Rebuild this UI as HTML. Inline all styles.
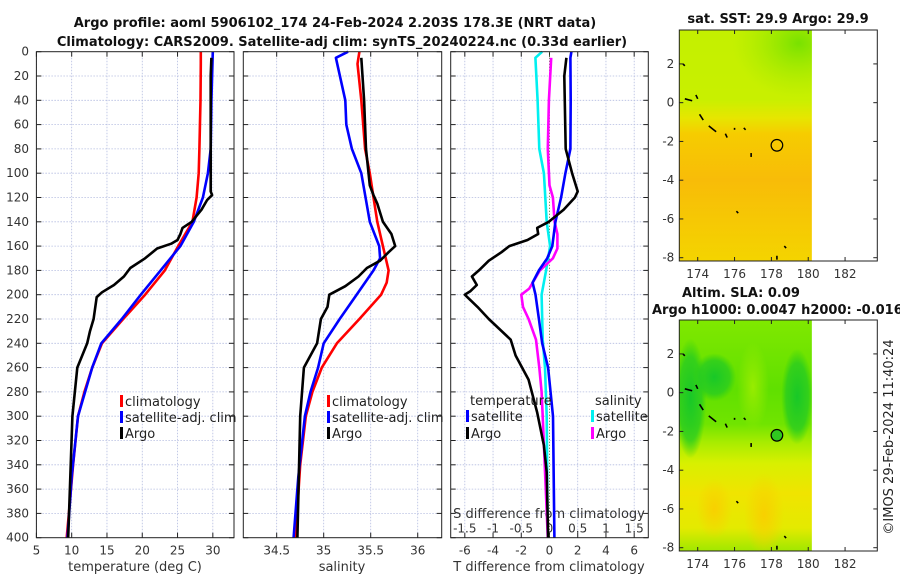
<!DOCTYPE html>
<html><head><meta charset="utf-8">
<style>
body{margin:0;background:#fff;}
svg{display:block;font-family:"DejaVu Sans","Liberation Sans",sans-serif;}
</style></head>
<body>
<svg id="c" width="900" height="580" viewBox="0 0 900 580">
<defs>
<linearGradient id="sstg" x1="0" y1="0" x2="0" y2="1">
<stop offset="0" stop-color="#c4f000"/><stop offset="0.3" stop-color="#c8f000"/>
<stop offset="0.38" stop-color="#e6e600"/><stop offset="0.45" stop-color="#f6cc00"/>
<stop offset="0.65" stop-color="#f8bc08"/><stop offset="1" stop-color="#f4d400"/>
</linearGradient>
<radialGradient id="sstgr" cx="0.9" cy="0.12" r="0.5">
<stop offset="0" stop-color="#70e000" stop-opacity="0.9"/><stop offset="1" stop-color="#a0e800" stop-opacity="0"/>
</radialGradient>
<linearGradient id="slag" x1="0" y1="0" x2="0" y2="1">
<stop offset="0" stop-color="#80e800"/><stop offset="0.3" stop-color="#60e000"/>
<stop offset="0.45" stop-color="#70e400"/><stop offset="0.53" stop-color="#a8ec00"/>
<stop offset="0.62" stop-color="#d8f000"/><stop offset="0.75" stop-color="#f0e400"/>
<stop offset="0.9" stop-color="#e4ea00"/><stop offset="1" stop-color="#a0e800"/>
</linearGradient>
<radialGradient id="blobA" cx="0.5" cy="0.5" r="0.5"><stop offset="0" stop-color="#f8d000"/><stop offset="1" stop-color="#f8d000" stop-opacity="0"/></radialGradient>
<radialGradient id="blobG" cx="0.5" cy="0.5" r="0.5"><stop offset="0" stop-color="#18c828"/><stop offset="0.7" stop-color="#28cc20" stop-opacity="0.8"/><stop offset="1" stop-color="#30d010" stop-opacity="0"/></radialGradient>
<radialGradient id="blobL" cx="0.5" cy="0.5" r="0.5"><stop offset="0" stop-color="#98ec00"/><stop offset="1" stop-color="#98ec00" stop-opacity="0"/></radialGradient>
</defs>
<g id="root"></g>
</svg>
<script>
// ---- data ----
const depthRed = [0,10,40,80,100,120,140,160,180,200,220,240,260,280,300,340,380,400];
const tempClim = [28.3,28.3,28.25,28.1,28.0,27.7,27.1,25.1,23.2,20.4,17.3,14.3,12.9,11.8,10.9,10.2,9.6,9.3];
const depthBlue = [0,40,80,100,120,140,160,180,200,220,240,260,300,350,400];
const tempSat = [30.0,29.8,29.7,29.3,28.6,27.3,25.4,22.6,19.8,17.1,14.2,12.9,10.9,10.0,9.4];
const depthArgoT = [5,20,60,100,115,118,122,130,140,145,150,155,158,162,170,178,185,192,198,202,220,230,240,260,300,350,400];
const tempArgo = [29.8,29.7,29.7,29.7,29.7,29.9,29.2,28.4,27.0,25.7,25.4,25.0,24.1,22.1,20.4,18.3,17.4,16.0,14.3,13.55,13.1,12.6,12.2,10.8,10.1,9.8,9.5];
const depthSalClim = [0,10,40,80,100,120,140,160,180,190,200,220,240,260,280,300,340,400];
const salClim = [35.38,35.36,35.40,35.44,35.49,35.53,35.57,35.63,35.69,35.67,35.61,35.38,35.14,34.98,34.88,34.81,34.75,34.70];
const depthSalSat = [0,5,40,60,80,100,140,160,170,180,200,220,240,260,280,300,350,400];
const salSat = [35.26,35.13,35.23,35.24,35.30,35.40,35.49,35.59,35.60,35.53,35.35,35.17,35.00,34.94,34.86,34.80,34.73,34.68];
const depthSalArgo = [5,40,80,110,118,125,140,150,160,165,172,178,185,193,200,210,220,240,260,300,400];
const salArgo = [35.40,35.43,35.45,35.49,35.53,35.57,35.63,35.72,35.76,35.69,35.60,35.46,35.37,35.23,35.06,35.04,34.97,34.93,34.79,34.75,34.72];
const depthDT = [0,5,40,80,100,120,140,160,170,180,190,200,220,240,260,300,400];
const dTsat = [1.55,1.48,1.50,1.48,1.13,0.82,0.42,0.2,-0.16,-0.75,-1.2,-0.99,-0.75,-0.52,-0.1,0.25,0.35];
const depthDTA = [5,20,80,100,115,120,130,140,145,150,155,160,165,172,180,185,192,197,200,210,220,237,250,270,297,324,346,400];
const dTargo = [1.2,1.05,1.15,1.6,2.0,1.8,1.0,-0.05,-0.87,-0.8,-1.56,-2.85,-3.4,-4.3,-5.0,-5.5,-5.15,-5.6,-6.0,-5.1,-4.3,-2.75,-2.4,-1.48,-0.87,-0.4,-0.2,-0.1];
const depthDS = [0,5,40,80,100,140,160,180,200,237,260,300,400];
const dSsat = [-0.13,-0.25,-0.21,-0.18,-0.10,-0.05,0.01,-0.06,-0.14,-0.12,-0.08,-0.05,-0.03];
const depthDSA = [5,40,80,110,120,140,150,162,170,180,195,200,210,220,237,260,280,300,400];
const dSargo = [0.03,-0.01,-0.03,0.0,0.06,0.09,0.14,0.14,0.06,-0.17,-0.36,-0.50,-0.47,-0.37,-0.24,-0.18,-0.14,-0.12,-0.03];
const depthTicks = [0,20,40,60,80,100,120,140,160,180,200,220,240,260,280,300,320,340,360,380,400];
const tTicks = [5,10,15,20,25,30];
const sTicks = [34.5,35,35.5,36];
const dtTicks = [-6,-4,-2,0,2,4,6];
const dsTicks = [-1.5,-1,-0.5,0,0.5,1,1.5];
const lonTicks = [174,176,178,180,182];
const latTicks = [2,0,-2,-4,-6,-8];
const argoPos = [178.3,-2.2];

const NS='http://www.w3.org/2000/svg';
const root=document.getElementById('root');
function mk(tag,attrs,parent,txt){const e=document.createElementNS(NS,tag);for(const k in attrs)e.setAttribute(k,attrs[k]);if(txt!==undefined)e.textContent=txt;(parent||root).appendChild(e);return e;}

const Y0=51.7,Y1=537.7;
const yD=d=>Y0+(d/400)*(Y1-Y0);
function lin(d0,d1,r0,r1){return v=>r0+(v-d0)/(d1-d0)*(r1-r0);}
const panels=[
 {name:'temperature-panel',x0:36.4,x1:234,sx:lin(5,33,36.4,234),ticks:tTicks},
 {name:'salinity-panel',x0:243.3,x1:441.7,sx:lin(34.145,36.255,243.3,441.7),ticks:sTicks},
 {name:'difference-panel',x0:450.7,x1:648.3,sx:lin(-7,7,450.7,648.3),ticks:dtTicks}
];
panels.forEach((p,i)=>{
 const g=mk('g',{});
 
 
 depthTicks.forEach(d=>{
  if(d>0&&d<400){const l=mk('line',{x1:p.x0,x2:p.x1,y1:yD(d),y2:yD(d),stroke:'#b4bce0','stroke-width':0.8,'stroke-dasharray':'1.5,1.5'},g);
  }
  mk('line',{x1:p.x0,x2:p.x0+5,y1:yD(d),y2:yD(d),stroke:'#222','stroke-width':1},g);
  mk('line',{x1:p.x1-5,x2:p.x1,y1:yD(d),y2:yD(d),stroke:'#222','stroke-width':1},g);
 });
 p.ticks.forEach(t=>{
  const x=p.sx(t);
  if(!(i==2&&t==0)){const l=mk('line',{x1:x,x2:x,y1:Y0,y2:Y1,stroke:'#b4bce0','stroke-width':0.8,'stroke-dasharray':'1.5,1.5'},g);
  }
  mk('line',{x1:x,x2:x,y1:Y1-5,y2:Y1,stroke:'#222'},g);
  mk('line',{x1:x,x2:x,y1:Y0,y2:Y0+5,stroke:'#222'},g);
  const tl=mk('text',{x:x,y:Y1+17,'text-anchor':'middle','font-size':12,fill:'#333'},g,String(t));
  
 });
});
depthTicks.forEach(d=>{const t=mk('text',{x:29,y:yD(d)+4,'text-anchor':'end','font-size':12,fill:'#333'},root,String(d));
});
const P3=panels[2];
const z=mk('line',{x1:P3.sx(0),x2:P3.sx(0),y1:Y0,y2:Y1,stroke:'#556b2f','stroke-width':1,'stroke-dasharray':'1,2'});

const sS=v=>P3.sx(v*4);
dsTicks.forEach(t=>{const e=mk('text',{x:sS(t),y:Y1-5,'text-anchor':'middle','font-size':12,fill:'#333'},root,String(t));
});
const st=mk('text',{x:549,y:518,'text-anchor':'middle','font-size':13,fill:'#333'},root,'S difference from climatology');


function line(name,xs,ds,sx,col){
 const pts=xs.map((v,i)=>sx(v).toFixed(1)+','+yD(ds[i]).toFixed(1)).join(' ');
 const e=mk('polyline',{points:pts,fill:'none',stroke:col,'stroke-width':2.6,'stroke-linejoin':'round'});
 
}
line('temp-climatology-line',tempClim,depthRed,panels[0].sx,'#ff0000');
line('temp-satellite-line',tempSat,depthBlue,panels[0].sx,'#0000ff');
line('temp-argo-line',tempArgo,depthArgoT,panels[0].sx,'#000');
line('sal-climatology-line',salClim,depthSalClim,panels[1].sx,'#ff0000');
line('sal-satellite-line',salSat,depthSalSat,panels[1].sx,'#0000ff');
line('sal-argo-line',salArgo,depthSalArgo,panels[1].sx,'#000');
line('ds-satellite-line',dSsat,depthDS,sS,'#00f0f0');
line('ds-argo-line',dSargo,depthDSA,sS,'#ff00ff');
line('dt-satellite-line',dTsat,depthDT,P3.sx,'#0000ff');
line('dt-argo-line',dTargo,depthDTA,P3.sx,'#000');

panels.forEach(p=>{const r=mk('rect',{x:p.x0,y:Y0,width:p.x1-p.x0,height:Y1-Y0,fill:'none',stroke:'#222','stroke-width':1});
});

function leg(x,y,col,label){
 const g=mk('g',{});
 mk('rect',{x:x,y:y-11,width:3,height:12,fill:col},g);
 mk('text',{x:x+5,y:y,'font-size':13,fill:'#222'},g,label);
}
[[120,'#ff0000','climatology',406],[120,'#0000ff','satellite-adj. clim',422],[120,'#000','Argo',438]].forEach(a=>leg(a[0],a[3],a[1],a[2]));
[[327,'#ff0000','climatology',406],[327,'#0000ff','satellite-adj. clim',422],[327,'#000','Argo',438]].forEach(a=>leg(a[0],a[3],a[1],a[2]));
mk('text',{x:470,y:405,'font-size':13,fill:'#222'},root,'temperature');
mk('text',{x:595,y:405,'font-size':13,fill:'#222'},root,'salinity');
leg(466,421,'#0000ff','satellite');leg(466,438,'#000','Argo');
leg(591,421,'#00f0f0','satellite');leg(591,438,'#ff00ff','Argo');

[[135,'temperature (deg C)'],[342,'salinity'],[549,'T difference from climatology']].forEach(a=>{
 const t=mk('text',{x:a[0],y:571,'text-anchor':'middle','font-size':13,fill:'#333'},root,a[1]);
 });
const t1=mk('text',{x:335,y:27,'text-anchor':'middle','font-size':13,'font-weight':'bold',fill:'#111'},root,'Argo profile: aoml 5906102_174 24-Feb-2024 2.203S 178.3E (NRT data)');

const t2=mk('text',{x:342,y:46,'text-anchor':'middle','font-size':13,'font-weight':'bold',fill:'#111'},root,'Climatology: CARS2009. Satellite-adj clim: synTS_20240224.nc (0.33d earlier)');


const MX0=679.3,MX1=877.3;
const lonX=lin(173,183.75,MX0,MX1);
function drawMap(name,top,fillId,extra){
 const latY=lin(3.75,-8.17,top,top+231);
 const g=mk('g',{});
 const dx0=MX0,dx1=lonX(180.2);
 const cl=mk('clipPath',{id:'clip-'+name},g);
 mk('rect',{x:dx0,y:top,width:dx1-dx0,height:231},cl);
 const inner=mk('g',{'clip-path':'url(#clip-'+name+')'},g);
 mk('rect',{x:dx0,y:top,width:dx1-dx0,height:231,fill:'url(#'+fillId+')'},inner);
 extra(inner,latY,dx0,dx1);
 [[173.2,2.0,173.3,1.9],[173.3,0.2,173.7,0.1],[173.9,0.4,174.0,0.2],[174.1,-0.6,174.3,-0.9],[174.6,-1.2,175.0,-1.5],[175.5,-1.6,175.6,-1.8],[176.0,-1.3,176.0,-1.4],[176.5,-1.3,176.6,-1.4],[176.9,-2.6,176.9,-2.8],[176.1,-5.6,176.2,-5.7],[178.7,-7.4,178.8,-7.5],[178.3,-7.9,178.3,-8.1]].forEach(s=>{
  mk('line',{x1:lonX(s[0]),y1:latY(s[1]),x2:lonX(s[2]),y2:latY(s[3]),stroke:'#000','stroke-width':1.6},g);});
 const c=mk('circle',{cx:lonX(argoPos[0]),cy:latY(argoPos[1]),r:5.8,fill:name=='sla-map'?'#30c820':'none',stroke:'#000','stroke-width':1.2},g);
 
 mk('rect',{x:MX0,y:top,width:MX1-MX0,height:231,fill:'none',stroke:'#222'},g);
 lonTicks.forEach(l=>{const x=lonX(l);mk('line',{x1:x,x2:x,y1:top+231-4,y2:top+231,stroke:'#222'},g);mk('line',{x1:x,x2:x,y1:top,y2:top+4,stroke:'#222'},g);
  mk('text',{x:x,y:top+248,'text-anchor':'middle','font-size':12,fill:'#333'},g,String(l));});
 latTicks.forEach(l=>{const y=latY(l);mk('line',{x1:MX0,x2:MX0+4,y1:y,y2:y,stroke:'#222'},g);mk('line',{x1:MX1-4,x2:MX1,y1:y,y2:y,stroke:'#222'},g);
  mk('text',{x:MX0-5,y:y+4,'text-anchor':'end','font-size':12,fill:'#333'},g,String(l));});
}
drawMap('sst-map',30,'sstg',(g,latY,x0,x1)=>{mk('rect',{x:x0,y:30,width:x1-x0,height:110,fill:'url(#sstgr)'},g);});
drawMap('sla-map',320,'slag',(g,latY,x0,x1)=>{
 mk('ellipse',{cx:lonX(177.0),cy:latY(0.3),rx:16,ry:45,fill:'url(#blobL)'},g);
 mk('ellipse',{cx:lonX(173.6),cy:latY(-0.3),rx:16,ry:60,fill:'url(#blobG)'},g);
 mk('ellipse',{cx:lonX(174.9),cy:latY(0.8),rx:22,ry:24,fill:'url(#blobG)'},g);
 mk('ellipse',{cx:lonX(179.4),cy:latY(-0.2),rx:16,ry:48,fill:'url(#blobG)'},g);
 mk('ellipse',{cx:lonX(177.6),cy:latY(-6.3),rx:20,ry:42,fill:'url(#blobA)'},g);
 mk('ellipse',{cx:lonX(174.9),cy:latY(-6.0),rx:18,ry:30,fill:'url(#blobA)'},g);
});
const m1=mk('text',{x:778,y:23,'text-anchor':'middle','font-size':13,'font-weight':'bold',fill:'#111'},root,'sat. SST: 29.9 Argo: 29.9');

const m2=mk('text',{x:682,y:297,'font-size':13,'font-weight':'bold',fill:'#111'},root,'Altim. SLA: 0.09');

const m3=mk('text',{x:652,y:314,'font-size':13,'font-weight':'bold',fill:'#111'},root,'Argo h1000: 0.0047 h2000: -0.016');

const cp=mk('text',{x:0,y:0,'text-anchor':'middle','font-size':13,fill:'#222',transform:'translate(893,437) rotate(-90)'},root,'©IMOS 29-Feb-2024 11:40:24');

</script>
</body></html>
